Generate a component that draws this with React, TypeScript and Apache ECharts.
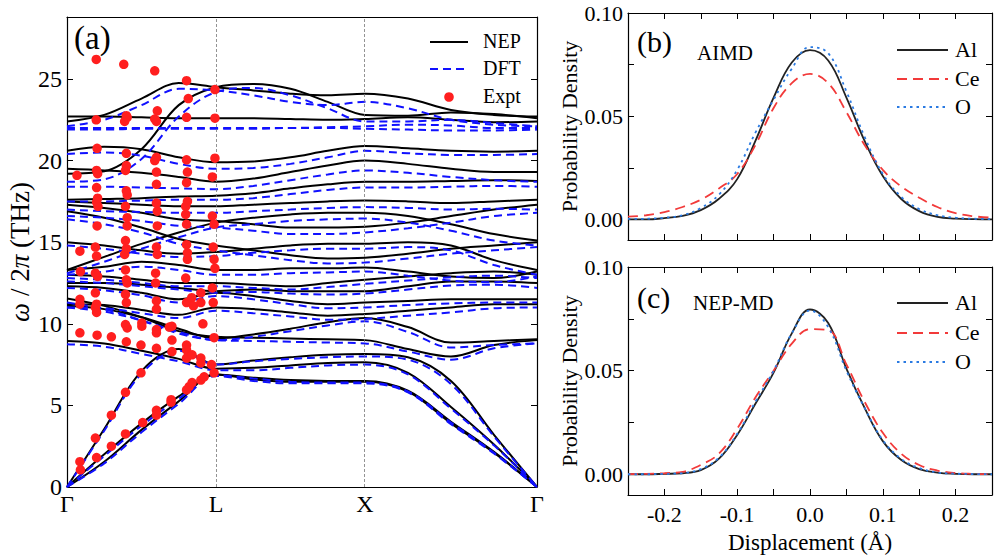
import React, { useEffect, useRef } from "react";
import * as echarts from "echarts";

const FONT = "Liberation Serif";

// k-path sample positions (Γ, L, X, Γ at 0, 0.866, 1.732, 2.732)
const K = [0, 0.2165, 0.433, 0.6495, 0.866, 1.0825, 1.299, 1.5155, 1.732, 1.982, 2.232, 2.482, 2.732];
const kTickValues = [0, 0.866, 1.732, 2.732];
const kTickLabels = ["Γ", "L", "X", "Γ"];
const freqTickValues = [0, 5, 10, 15, 20, 25];

const nepBands = [
  [0, 1.55, 3.5, 5.25, 6.9, 6.6, 6.45, 6.45, 6.45, 5.85, 3.9, 2.1, 0],
  [0, 2.0, 3.9, 5.55, 6.9, 6.7, 6.55, 6.5, 6.5, 5.9, 4.0, 2.15, 0],
  [0, 3.55, 7.1, 8.45, 7.5, 7.75, 7.95, 8.1, 8.15, 7.95, 6.5, 3.2, 0],
  [8.95, 8.8, 8.35, 7.85, 7.25, 7.3, 7.45, 7.6, 7.65, 7.0, 4.9, 2.6, 0],
  [11.1, 10.9, 10.4, 9.7, 9.1, 9.35, 9.7, 10.1, 10.35, 9.8, 8.85, 8.95, 9.05],
  [11.55, 11.1, 10.4, 9.55, 9.2, 9.15, 9.1, 9.05, 9.0, 8.45, 8.0, 8.7, 9.0],
  [11.2, 11.15, 10.85, 10.55, 11.0, 10.9, 10.7, 10.5, 10.6, 10.8, 11.0, 11.2, 11.2],
  [12.3, 12.2, 11.9, 11.5, 11.9, 11.7, 11.4, 11.2, 11.3, 11.4, 11.5, 11.5, 11.5],
  [12.5, 12.5, 12.4, 12.2, 12.0, 12.1, 12.0, 12.0, 12.0, 12.3, 12.6, 12.6, 12.5],
  [13.0, 12.9, 12.7, 12.5, 12.5, 12.4, 12.3, 12.5, 12.7, 12.9, 13.1, 13.2, 13.0],
  [13.3, 13.5, 13.8, 13.6, 13.3, 13.3, 13.4, 13.4, 13.45, 13.2, 12.9, 12.8, 13.2],
  [13.3, 14.1, 14.9, 15.6, 16.2, 16.5, 16.7, 16.8, 16.8, 16.6, 16.1, 15.5, 15.1],
  [15.0, 14.8, 14.5, 14.3, 14.4, 14.6, 14.8, 14.9, 14.9, 15.0, 14.8, 13.9, 13.3],
  [16.9, 16.5, 15.9, 15.2, 14.8, 14.5, 14.2, 14.0, 14.05, 14.3, 14.6, 14.8, 15.0],
  [17.3, 17.1, 16.8, 16.4, 16.3, 16.1, 15.9, 15.9, 15.95, 16.2, 16.6, 17.0, 17.3],
  [17.5, 17.4, 17.3, 17.2, 17.2, 17.3, 17.4, 17.5, 17.55, 17.5, 17.4, 17.5, 17.6],
  [17.6, 17.65, 17.7, 17.8, 17.85, 18.0, 18.3, 18.55, 18.7, 18.7, 18.75, 18.8, 18.75],
  [19.5, 19.4, 19.25, 19.0, 18.7, 18.9, 19.3, 19.7, 20.0, 19.8, 19.5, 19.3, 19.3],
  [20.6, 20.85, 20.7, 20.2, 19.9, 19.95, 20.2, 20.6, 20.9, 20.75, 20.6, 20.55, 20.6],
  [22.7, 22.7, 22.65, 22.6, 22.6, 22.6, 22.55, 22.5, 22.55, 22.65, 22.5, 22.35, 22.4],
  [22.4, 22.8, 23.8, 24.75, 24.5, 24.3, 24.1, 24.0, 24.1, 23.8, 23.1, 22.8, 22.7],
  [19.2, 19.35, 20.7, 23.4, 24.5, 24.7, 24.4, 23.6, 22.8, 22.75, 22.95, 22.85, 22.6],
];

const dftBands = [
  [0, 1.45, 3.35, 5.1, 6.8, 6.5, 6.35, 6.35, 6.35, 5.8, 3.85, 2.05, 0],
  [0, 1.9, 3.75, 5.4, 6.85, 6.65, 6.45, 6.4, 6.4, 5.85, 3.95, 2.1, 0],
  [0, 3.45, 6.95, 8.35, 7.5, 7.7, 7.85, 7.95, 8.0, 7.8, 6.3, 3.1, 0],
  [8.75, 8.6, 8.15, 7.7, 7.15, 7.15, 7.3, 7.45, 7.5, 6.9, 4.8, 2.55, 0],
  [11.0, 10.75, 10.2, 9.5, 9.0, 9.2, 9.55, 9.9, 10.15, 9.5, 8.55, 8.7, 8.8],
  [11.3, 10.9, 10.2, 9.4, 9.0, 8.95, 8.9, 8.85, 8.8, 8.3, 7.8, 8.5, 8.8],
  [11.0, 10.95, 10.65, 10.35, 10.8, 10.65, 10.45, 10.25, 10.3, 10.5, 10.7, 10.95, 11.0],
  [12.2, 12.05, 11.75, 11.3, 11.7, 11.5, 11.2, 10.95, 11.0, 11.15, 11.25, 11.3, 11.3],
  [12.6, 12.5, 12.3, 12.1, 11.9, 11.95, 11.85, 11.8, 11.85, 12.1, 12.35, 12.4, 12.2],
  [12.8, 12.7, 12.5, 12.3, 12.3, 12.2, 12.1, 12.25, 12.45, 12.65, 12.85, 12.95, 12.8],
  [13.0, 13.2, 13.5, 13.3, 13.0, 13.0, 13.1, 13.15, 13.2, 12.95, 12.65, 12.55, 12.9],
  [13.1, 13.8, 14.6, 15.3, 15.9, 16.1, 16.3, 16.4, 16.45, 16.2, 15.7, 15.1, 14.8],
  [14.8, 14.6, 14.3, 14.1, 14.15, 14.35, 14.5, 14.6, 14.6, 14.7, 14.5, 13.6, 13.0],
  [16.4, 16.1, 15.6, 14.9, 14.5, 14.2, 13.9, 13.7, 13.75, 14.0, 14.3, 14.5, 14.7],
  [16.6, 16.5, 16.3, 16.0, 15.9, 15.7, 15.5, 15.5, 15.6, 15.85, 16.2, 16.6, 16.8],
  [17.0, 16.9, 16.85, 16.8, 16.8, 16.9, 17.0, 17.1, 17.15, 17.1, 17.0, 17.05, 17.0],
  [17.5, 17.5, 17.55, 17.6, 17.6, 17.7, 17.95, 18.2, 18.35, 18.35, 18.4, 18.45, 18.4],
  [18.4, 18.4, 18.35, 18.3, 18.25, 18.45, 18.8, 19.15, 19.4, 19.25, 19.0, 18.8, 18.7],
  [20.4, 20.5, 20.3, 19.8, 19.5, 19.55, 19.8, 20.2, 20.6, 20.45, 20.35, 20.35, 20.4],
  [22.0, 22.0, 22.0, 22.0, 22.0, 22.0, 22.0, 22.05, 22.1, 22.2, 22.15, 22.0, 22.0],
  [21.9, 21.9, 21.95, 21.95, 21.95, 21.95, 22.0, 22.0, 21.95, 21.9, 21.85, 21.85, 21.9],
  [22.1, 22.5, 23.4, 24.4, 24.3, 24.0, 23.6, 23.4, 23.6, 23.2, 22.5, 22.2, 22.1],
  [18.7, 18.85, 20.1, 22.7, 24.2, 24.45, 24.0, 23.2, 22.4, 22.4, 22.5, 22.3, 22.1],
];

const exptPoints = [
  [0.058, 19.1],
  [0.075, 1.55], [0.078, 1.05], [0.075, 9.45], [0.075, 11.5], [0.075, 11.2], [0.078, 13.2], [0.075, 14.45],
  [0.165, 3.0], [0.172, 1.8], [0.175, 9.3], [0.172, 10.7], [0.165, 11.0], [0.172, 11.2], [0.165, 11.9],
  [0.178, 12.9], [0.165, 13.1], [0.172, 14.15], [0.165, 14.7], [0.175, 16.0], [0.18, 17.2], [0.172, 17.45],
  [0.178, 17.7], [0.172, 18.35], [0.178, 19.2], [0.172, 19.4], [0.175, 20.75], [0.17, 22.5], [0.17, 26.2],
  [0.258, 4.4], [0.258, 2.5], [0.258, 9.2],
  [0.34, 5.8], [0.34, 3.25], [0.345, 8.9], [0.35, 9.75], [0.34, 9.95], [0.345, 11.3], [0.34, 11.8],
  [0.35, 12.5], [0.345, 12.7], [0.34, 13.3], [0.335, 14.25], [0.345, 14.6], [0.34, 15.1], [0.35, 16.0],
  [0.35, 16.5], [0.34, 17.2], [0.35, 17.9], [0.345, 18.15], [0.34, 19.4], [0.345, 19.7], [0.345, 20.45],
  [0.335, 22.4], [0.35, 22.65], [0.345, 22.75], [0.33, 25.9],
  [0.43, 7.0], [0.44, 3.95], [0.43, 8.7], [0.435, 9.85], [0.435, 10.05],
  [0.52, 4.7], [0.52, 4.4], [0.52, 9.45], [0.52, 8.5], [0.52, 9.65], [0.52, 10.9], [0.52, 11.4],
  [0.515, 12.5], [0.515, 13.1], [0.525, 14.25], [0.52, 14.7], [0.525, 16.0], [0.525, 16.9], [0.52, 17.4],
  [0.52, 18.55], [0.52, 19.3], [0.51, 20.0], [0.52, 20.2], [0.52, 22.4], [0.51, 22.55], [0.525, 23.05], [0.51, 25.5],
  [0.605, 5.35], [0.605, 5.2], [0.61, 9.0], [0.61, 8.3], [0.595, 9.8], [0.61, 9.85],
  [0.695, 5.95], [0.71, 6.15], [0.695, 8.7], [0.695, 8.4], [0.695, 7.9], [0.695, 11.3], [0.69, 12.8],
  [0.7, 13.95], [0.7, 14.35], [0.695, 14.85], [0.695, 16.1], [0.69, 16.7], [0.69, 17.2], [0.7, 17.5],
  [0.695, 18.65], [0.7, 19.3], [0.695, 20.05], [0.695, 22.65], [0.705, 23.8], [0.695, 24.9],
  [0.727, 6.4], [0.727, 8.1], [0.725, 11.6], [0.735, 11.1],
  [0.778, 6.55], [0.778, 7.9], [0.778, 7.6], [0.778, 11.9], [0.778, 11.3], [0.79, 10.0],
  [0.797, 6.75],
  [0.855, 7.0], [0.84, 7.5], [0.855, 9.15], [0.85, 11.3], [0.845, 12.2], [0.86, 13.4], [0.855, 13.95],
  [0.85, 14.7], [0.855, 16.1], [0.845, 16.6], [0.845, 19.0], [0.86, 20.15], [0.86, 22.6], [0.86, 24.35],
];

// Displacement distributions
const disp = [-0.25, -0.225, -0.2, -0.175, -0.15, -0.125, -0.1, -0.075, -0.05, -0.025, 0, 0.025, 0.05, 0.075, 0.1, 0.125, 0.15, 0.175, 0.2, 0.225, 0.25];
const aimdAl = [0, 0, 0.0006, 0.0017, 0.0045, 0.01, 0.0195, 0.038, 0.059, 0.076, 0.082, 0.077, 0.059, 0.038, 0.021, 0.01, 0.004, 0.0012, 0.0004, 0.0001, 0];
const aimdCe = [0.0013, 0.002, 0.0035, 0.006, 0.0095, 0.015, 0.022, 0.036, 0.054, 0.066, 0.0705, 0.066, 0.052, 0.036, 0.024, 0.016, 0.0105, 0.006, 0.003, 0.0015, 0.0008];
const aimdO = [0.0002, 0.0003, 0.0008, 0.002, 0.0055, 0.012, 0.024, 0.042, 0.058, 0.073, 0.0835, 0.0805, 0.062, 0.04, 0.022, 0.011, 0.005, 0.002, 0.0008, 0.0003, 0.0001];
const nepAl = [0, 0, 0.0002, 0.0005, 0.002, 0.0075, 0.019, 0.034, 0.049, 0.068, 0.0795, 0.073, 0.051, 0.032, 0.016, 0.007, 0.0025, 0.0008, 0.0002, 0, 0];
const nepCe = [0.0001, 0.0002, 0.0005, 0.0012, 0.0045, 0.01, 0.022, 0.037, 0.05, 0.063, 0.07, 0.0695, 0.053, 0.035, 0.02, 0.01, 0.0045, 0.0018, 0.0006, 0.0002, 0];
const nepO = [0, 0, 0.0002, 0.0006, 0.0025, 0.008, 0.0195, 0.035, 0.05, 0.068, 0.079, 0.071, 0.05, 0.032, 0.0165, 0.0075, 0.003, 0.0009, 0.0003, 0.0001, 0];

const pdfLabelValues = [0, 0.05, 0.1];
const pdfTickValues = [0, 0.025, 0.05, 0.075, 0.1];

const BLUE = "#1010ff";
const RED = "#ff1f1f";
const CE_RED = "#f23a3a";
const O_BLUE = "#2a7ae2";
const AL_BLACK = "#222222";

export default function App() {
  const ref = useRef<HTMLDivElement>(null);

  useEffect(() => {
    if (!ref.current) return;
    const chart = echarts.init(ref.current, undefined, { renderer: "svg" });

    const axisLine = { show: true, onZero: false, lineStyle: { color: "#000", width: 1.2 } };
    const labelBase = { color: "#000", fontFamily: FONT, fontSize: 22 };

    const series: any[] = [];
    nepBands.forEach((b, i) => {
      series.push({
        type: "line",
        name: "NEP",
        xAxisIndex: 0,
        yAxisIndex: 0,
        data: b.map((v, j) => [K[j], v]),
        smooth: 0.35,
        symbol: "none",
        silent: true,
        lineStyle: { color: "#000", width: 2 },
        z: 2,
        markLine:
          i === 0
            ? {
                silent: true,
                symbol: ["none", "none"],
                label: { show: false },
                lineStyle: { type: [3, 2], color: "#777", width: 0.8 },
                data: [{ xAxis: kTickValues[1] }, { xAxis: kTickValues[2] }],
              }
            : undefined,
      });
    });
    dftBands.forEach((b) => {
      series.push({
        type: "line",
        name: "DFT",
        xAxisIndex: 0,
        yAxisIndex: 0,
        data: b.map((v, j) => [K[j], v]),
        smooth: 0.35,
        symbol: "none",
        silent: true,
        lineStyle: { color: BLUE, width: 2, type: [8, 5] },
        z: 3,
      });
    });
    series.push({
      type: "scatter",
      name: "Expt",
      xAxisIndex: 0,
      yAxisIndex: 0,
      data: exptPoints,
      symbolSize: 9.5,
      itemStyle: { color: RED, opacity: 1 },
      silent: true,
      z: 5,
    });

    const pdfSeries = (name: string, vals: number[], idx: number, color: string, type: any, z: number) => ({
      type: "line",
      name,
      xAxisIndex: idx,
      yAxisIndex: idx,
      data: vals.map((v, j) => [disp[j], v]),
      smooth: 0.4,
      symbol: "none",
      silent: true,
      lineStyle: { color, width: 1.8, type },
      z,
    });
    series.push(pdfSeries("Al", aimdAl, 2, AL_BLACK, "solid", 2));
    series.push(pdfSeries("Ce", aimdCe, 2, CE_RED, [10, 6], 3));
    series.push(pdfSeries("O", aimdO, 2, O_BLUE, [2.5, 4], 4));
    series.push(pdfSeries("Al", nepAl, 4, AL_BLACK, "solid", 2));
    series.push(pdfSeries("Ce", nepCe, 4, CE_RED, [10, 6], 3));
    series.push(pdfSeries("O", nepO, 4, O_BLUE, [2.5, 4], 4));

    const dispAxis = (gridIndex: number, position: string, showLabel: boolean) => ({
      type: "value",
      gridIndex,
      position,
      min: -0.25,
      max: 0.25,
      interval: 0.05,
      axisLine,
      axisTick: { show: true, inside: true, length: 6, lineStyle: { color: "#000", width: 1 } },
      splitLine: { show: false },
      axisLabel: showLabel
        ? {
            ...labelBase,
            margin: 8,
            formatter: (v: number) => (Math.abs(Math.round(v * 100)) % 10 === 0 ? v.toFixed(1) : ""),
          }
        : { show: false },
    });

    const pdfYAxis = (gridIndex: number, position: string, showLabel: boolean) => ({
      type: "value",
      gridIndex,
      position,
      min: -0.01,
      max: 0.1,
      axisLine,
      axisTick: { show: true, inside: true, length: 6, customValues: pdfTickValues, lineStyle: { color: "#000", width: 1 } },
      splitLine: { show: false },
      axisLabel: showLabel
        ? { ...labelBase, margin: 5, customValues: pdfLabelValues, formatter: (v: number) => v.toFixed(2) }
        : { show: false },
      name: showLabel ? "Probability Density" : "",
      nameLocation: "middle",
      nameRotate: 90,
      nameGap: 46,
      nameTextStyle: { color: "#000", fontFamily: FONT, fontSize: 22 },
    });

    const option: any = {
      animation: false,
      backgroundColor: "#fff",
      grid: [
        { left: 67, top: 17, width: 470, height: 470 },
        { left: 628, top: 13, width: 364, height: 227 },
        { left: 628, top: 267, width: 364, height: 228 },
      ],
      xAxis: [
        {
          type: "value",
          gridIndex: 0,
          position: "bottom",
          min: 0,
          max: 2.732,
          axisLine,
          axisTick: { show: false },
          splitLine: { show: false },
          axisLabel: {
            ...labelBase,
            fontSize: 24,
            margin: 5,
            customValues: kTickValues,
            formatter: (v: number) => {
              const i = kTickValues.findIndex((t) => Math.abs(t - v) < 1e-6);
              return i >= 0 ? kTickLabels[i] : "";
            },
          },
        },
        {
          type: "value",
          gridIndex: 0,
          position: "top",
          min: 0,
          max: 2.732,
          axisLine,
          axisTick: { show: false },
          splitLine: { show: false },
          axisLabel: { show: false },
        },
        dispAxis(1, "bottom", false),
        dispAxis(1, "top", false),
        {
          ...dispAxis(2, "bottom", true),
          name: "Displacement (Å)",
          nameLocation: "middle",
          nameGap: 36,
          nameTextStyle: { color: "#000", fontFamily: FONT, fontSize: 23 },
        },
        dispAxis(2, "top", false),
      ],
      yAxis: [
        {
          type: "value",
          gridIndex: 0,
          position: "left",
          min: 0,
          max: 28.8,
          axisLine,
          axisTick: { show: true, inside: true, length: 6, customValues: freqTickValues, lineStyle: { color: "#000", width: 1 } },
          splitLine: { show: false },
          axisLabel: { ...labelBase, fontSize: 24, margin: 5, customValues: freqTickValues },
          name: "{i|ω} / 2{i|π} (THz)",
          nameLocation: "middle",
          nameRotate: 90,
          nameGap: 34,
          nameTextStyle: {
            color: "#000",
            fontFamily: FONT,
            fontSize: 27,
            rich: { i: { fontStyle: "italic", fontFamily: FONT, fontSize: 27, color: "#000" } },
          },
        },
        {
          type: "value",
          gridIndex: 0,
          position: "right",
          min: 0,
          max: 28.8,
          axisLine,
          axisTick: { show: true, inside: true, length: 6, customValues: freqTickValues, lineStyle: { color: "#000", width: 1 } },
          splitLine: { show: false },
          axisLabel: { show: false },
        },
        pdfYAxis(1, "left", true),
        pdfYAxis(1, "right", false),
        pdfYAxis(2, "left", true),
        pdfYAxis(2, "right", false),
      ],
      series,
      graphic: [
        { type: "text", left: 74, top: 21, style: { text: "(a)", fontSize: 33, fontFamily: FONT, fill: "#000" } },
        { type: "text", left: 637, top: 26, style: { text: "(b)", fontSize: 30, fontFamily: FONT, fill: "#000" } },
        { type: "text", left: 637, top: 282, style: { text: "(c)", fontSize: 30, fontFamily: FONT, fill: "#000" } },
        { type: "text", left: 697, top: 42, style: { text: "AIMD", fontSize: 21, fontFamily: FONT, fill: "#000" } },
        { type: "text", left: 693, top: 292, style: { text: "NEP-MD", fontSize: 21, fontFamily: FONT, fill: "#000" } },
        // legend (a)
        { type: "line", shape: { x1: 430, y1: 42, x2: 468, y2: 42 }, style: { stroke: "#000", lineWidth: 2 } },
        { type: "line", shape: { x1: 430, y1: 69, x2: 468, y2: 69 }, style: { stroke: BLUE, lineWidth: 2, lineDash: [8, 5] } },
        { type: "circle", shape: { cx: 449, cy: 97, r: 4.8 }, style: { fill: RED } },
        { type: "text", left: 483, top: 31, style: { text: "NEP", fontSize: 20, fontFamily: FONT, fill: "#000" } },
        { type: "text", left: 483, top: 58, style: { text: "DFT", fontSize: 20, fontFamily: FONT, fill: "#000" } },
        { type: "text", left: 483, top: 86, style: { text: "Expt", fontSize: 20, fontFamily: FONT, fill: "#000" } },
        // legend (b)
        { type: "line", shape: { x1: 897, y1: 50, x2: 948, y2: 50 }, style: { stroke: AL_BLACK, lineWidth: 2 } },
        { type: "line", shape: { x1: 897, y1: 79, x2: 948, y2: 79 }, style: { stroke: CE_RED, lineWidth: 2, lineDash: [10, 6] } },
        { type: "line", shape: { x1: 897, y1: 107, x2: 948, y2: 107 }, style: { stroke: O_BLUE, lineWidth: 2, lineDash: [2.5, 4] } },
        { type: "text", left: 955, top: 38, style: { text: "Al", fontSize: 22, fontFamily: FONT, fill: "#000" } },
        { type: "text", left: 955, top: 67, style: { text: "Ce", fontSize: 22, fontFamily: FONT, fill: "#000" } },
        { type: "text", left: 955, top: 95, style: { text: "O", fontSize: 22, fontFamily: FONT, fill: "#000" } },
        // legend (c)
        { type: "line", shape: { x1: 897, y1: 303, x2: 948, y2: 303 }, style: { stroke: AL_BLACK, lineWidth: 2 } },
        { type: "line", shape: { x1: 897, y1: 333, x2: 948, y2: 333 }, style: { stroke: CE_RED, lineWidth: 2, lineDash: [10, 6] } },
        { type: "line", shape: { x1: 897, y1: 362, x2: 948, y2: 362 }, style: { stroke: O_BLUE, lineWidth: 2, lineDash: [2.5, 4] } },
        { type: "text", left: 955, top: 291, style: { text: "Al", fontSize: 22, fontFamily: FONT, fill: "#000" } },
        { type: "text", left: 955, top: 321, style: { text: "Ce", fontSize: 22, fontFamily: FONT, fill: "#000" } },
        { type: "text", left: 955, top: 350, style: { text: "O", fontSize: 22, fontFamily: FONT, fill: "#000" } },
      ],
    };

    chart.setOption(option);
    return () => chart.dispose();
  }, []);

  return (
    <div
      ref={ref}
      style={{ position: "fixed", left: 0, top: 0, width: 1000, height: 557, background: "#fff" }}
    />
  );
}
